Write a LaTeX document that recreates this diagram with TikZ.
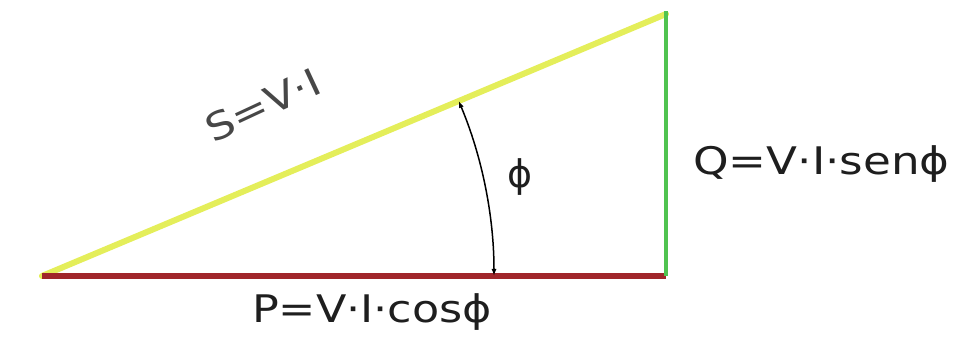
\documentclass[tikz,border=0pt]{standalone}
\usepackage{fontspec}
\setmainfont{DejaVu Sans}
\usetikzlibrary{arrows.meta}
\definecolor{hypyellow}{RGB}{228,238,90}
\definecolor{activered}{RGB}{160,38,42}
\definecolor{reactgreen}{RGB}{80,195,80}
\definecolor{txt}{RGB}{30,30,30}
\newcommand{\widen}[1]{\scalebox{1.17}[1]{#1}}
\begin{document}
\begin{tikzpicture}[x=1pt,y=1pt,
  lbl/.style={inner sep=0pt, text=txt, font=\fontsize{38}{46}\selectfont},
  side/.style={line width=6pt, line cap=round}]
\useasboundingbox (0,0) rectangle (960,345);
\coordinate (O) at (42,69);
\coordinate (R) at (666,69);
\coordinate (T) at (666,331);
\coordinate (A) at (494,69);
\draw[side, hypyellow] (O) -- (T);
\draw[side, activered, line cap=butt] (O) -- (R);
\draw[line width=4.5pt, reactgreen] (R) -- ([yshift=3pt]T);
\draw[black, line width=1.5pt, {Latex[length=7pt,width=5pt]}-{Latex[length=7pt,width=5pt]}] (A) arc[start angle=0, end angle=22.8, radius=452pt];
\node[lbl] (phi) at (520,168) {ϕ};
\node[lbl, text=black!72, rotate=25] (S) at (263,240) {\widen{S=V·I}};
\node[lbl, anchor=base west] (Q) at (693,170) {\scalebox{1.19}[1]{Q=V·I·senϕ}};
\node[lbl, anchor=base] (P) at (372,23) {\widen{P=V·I·cosϕ}};
\end{tikzpicture}
\end{document}
